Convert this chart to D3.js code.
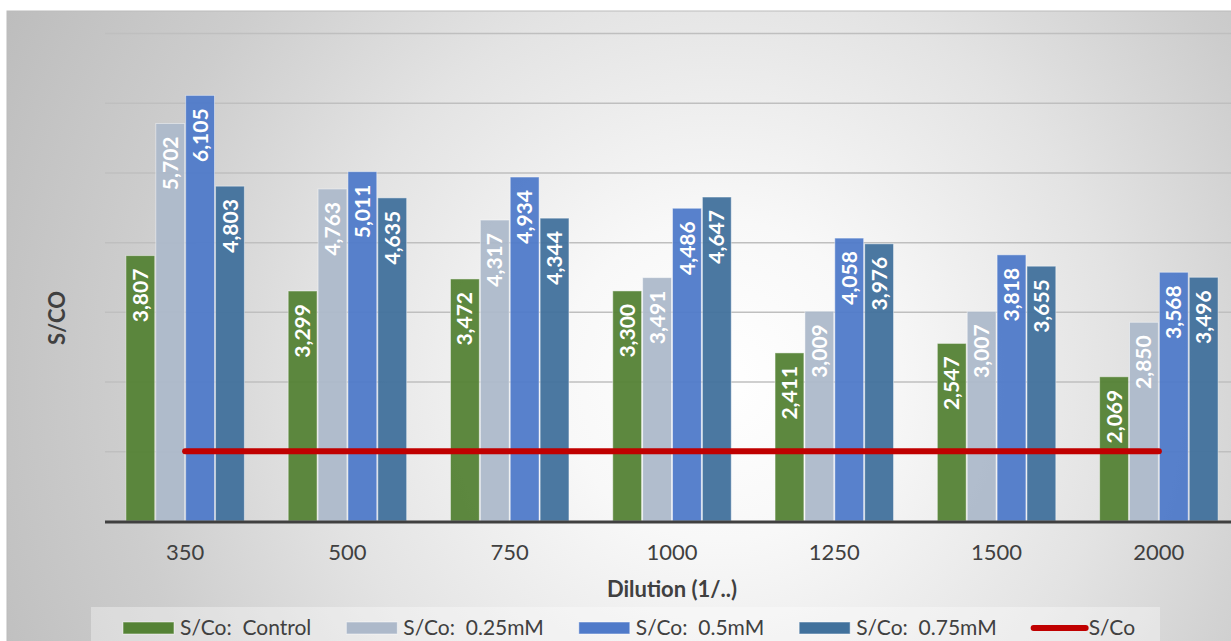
<!DOCTYPE html>
<html>
<head>
<meta charset="utf-8">
<script src="https://cdn.jsdelivr.net/npm/d3@7"></script>
<style>
  html, body { margin: 0; padding: 0; background: #ffffff; }
  svg { display: block; font-family: Lato, "Open Sans", sans-serif; }
  text { white-space: pre; }
</style>
</head>
<body>
<svg id="chart" width="1231" height="641"></svg>
<script>
// Dilution factors on the category axis
const dilutions = ["350", "500", "750", "1000", "1250", "1500", "2000"];

// S/Co ratios per treatment
const seriesNames = ["S/Co:  Control", "S/Co:  0.25mM", "S/Co:  0.5mM", "S/Co:  0.75mM"];
const control  = [3.807, 3.299, 3.472, 3.300, 2.411, 2.547, 2.069];
const mM025    = [5.702, 4.763, 4.317, 3.491, 3.009, 3.007, 2.850];
const mM050    = [6.105, 5.011, 4.934, 4.486, 4.058, 3.818, 3.568];
const mM075    = [4.803, 4.635, 4.344, 4.647, 3.976, 3.655, 3.496];
// Cut-off line
const cutoffName = "S/Co";
const cutoff   = [1, 1, 1, 1, 1, 1, 1];

const yTicks = [0, 1, 2, 3, 4, 5, 6, 7];

const seriesValues = [control, mM025, mM050, mM075];
const seriesColors = ["#548235", "#adb9ca", "#4f7ac9", "#41719c"];

const svg = d3.select("#chart");
const W = 1231, H = 641;

// Background panel with radial shading
const defs = svg.append("defs");
const grad = defs.append("radialGradient")
  .attr("id", "bg").attr("gradientUnits", "userSpaceOnUse")
  .attr("cx", 720).attr("cy", 380).attr("r", 800);
[[0, "#ffffff"], [0.2, "#f8f8f8"], [0.5, "#e3e3e3"], [0.75, "#cdcdcd"], [1, "#bdbdbd"]]
  .forEach(([o, c]) => grad.append("stop").attr("offset", o).attr("stop-color", c));

svg.append("rect").attr("x", 7).attr("y", 11).attr("width", W + 10).attr("height", H + 10)
  .attr("fill", "url(#bg)").attr("stroke", "#bcbcbc").attr("stroke-width", 1);

// Scales
const x0 = d3.scaleBand().domain(dilutions).range([104, 1240]).paddingInner(0.27).paddingOuter(0.135);
const x1 = d3.scaleBand().domain(d3.range(seriesNames.length)).range([0, x0.bandwidth()]).paddingInner(0.035);
const y = d3.scaleLinear().domain([0, 7]).range([521, 33]);

// Gridlines
svg.append("g")
  .attr("transform", "translate(105,0)")
  .call(d3.axisLeft(y).tickValues(yTicks.slice(1)).tickSize(-1200).tickFormat(""))
  .call(g => g.select(".domain").remove())
  .call(g => g.selectAll("line").attr("stroke", "#bfbfbf").attr("stroke-width", 1.5));

// Bars
const groups = svg.append("g").selectAll("g")
  .data(seriesValues)
  .join("g")
  .attr("fill", (d, i) => seriesColors[i]);

groups.selectAll("rect")
  .data((vals, si) => vals.map((v, ci) => ({ v, ci, si })))
  .join("rect")
  .attr("x", d => x0(dilutions[d.ci]) + x1(d.si))
  .attr("y", d => y(d.v))
  .attr("width", x1.bandwidth())
  .attr("height", d => y(0) - y(d.v))
  .attr("fill-opacity", 0.95)
  .attr("stroke", "#ffffff").attr("stroke-opacity", 0.45).attr("stroke-width", 1);

// Value labels (comma decimal separator)
const fmt = d3.formatLocale({ decimal: ",", thousands: ".", grouping: [3], currency: ["", ""] }).format(".3f");
groups.selectAll("text")
  .data((vals, si) => vals.map((v, ci) => ({ v, ci, si })))
  .join("text")
  .attr("transform", d => {
    const cx = x0(dilutions[d.ci]) + x1(d.si) + x1.bandwidth() / 2;
    return `translate(${cx},${y(d.v) + 13}) rotate(-90)`;
  })
  .attr("text-anchor", "end")
  .attr("dy", "0.36em")
  .attr("fill", "#ffffff")
  .attr("font-weight", "bold")
  .attr("font-size", 21)
  .text(d => fmt(d.v));

// Cut-off line between first and last category centres
const line = d3.line()
  .x((d, i) => x0(dilutions[i]) + x0.bandwidth() / 2)
  .y(d => y(d));
svg.append("path").datum(cutoff)
  .attr("d", line)
  .attr("fill", "none").attr("stroke", "#c00000")
  .attr("stroke-width", 6).attr("stroke-linecap", "round");

// Category axis
const xAxis = svg.append("g")
  .attr("transform", `translate(0,${y(0)})`)
  .call(d3.axisBottom(x0).tickSize(0).tickPadding(23));
xAxis.select(".domain").remove();
xAxis.selectAll("text")
  .attr("font-family", "Lato, 'Open Sans', sans-serif")
  .attr("font-size", 22).attr("fill", "#404040");
svg.append("line")
  .attr("x1", 105).attr("x2", W + 5)
  .attr("y1", y(0) + 1).attr("y2", y(0) + 1)
  .attr("stroke", "#404040").attr("stroke-width", 3);

// Axis titles
svg.append("text")
  .attr("x", 672).attr("y", 597)
  .attr("text-anchor", "middle")
  .attr("font-weight", "bold").attr("font-size", 22).attr("fill", "#404040")
  .text("Dilution (1/..)");
svg.append("text")
  .attr("transform", "translate(65,318) rotate(-90)")
  .attr("text-anchor", "middle")
  .attr("font-weight", "bold").attr("font-size", 22).attr("fill", "#404040")
  .text("S/CO");

// Legend
const legend = svg.append("g");
legend.append("rect")
  .attr("x", 91).attr("y", 607).attr("width", 1069).attr("height", 50)
  .attr("fill", "#ffffff").attr("fill-opacity", 0.35);

const legendItems = seriesNames.map((n, i) => ({ name: n, color: seriesColors[i], type: "bar" }))
  .concat([{ name: cutoffName, color: "#c00000", type: "line" }]);

let lx = 123;
legendItems.forEach((item) => {
  const g = legend.append("g").attr("transform", `translate(${lx},0)`);
  if (item.type === "bar") {
    g.append("rect").attr("x", 0).attr("y", 622).attr("width", 51).attr("height", 12)
      .attr("fill", item.color).attr("stroke", "#ffffff").attr("stroke-opacity", 0.5);
  } else {
    g.append("line").attr("x1", 2).attr("x2", 54).attr("y1", 628).attr("y2", 628)
      .attr("stroke", item.color).attr("stroke-width", 6).attr("stroke-linecap", "round");
  }
  const t = g.append("text")
    .attr("x", 57).attr("y", 635)
    .attr("font-size", 21).attr("fill", "#404040")
    .text(item.name);
  lx += 57 + t.node().getComputedTextLength() + 35;
});
</script>
</body>
</html>
